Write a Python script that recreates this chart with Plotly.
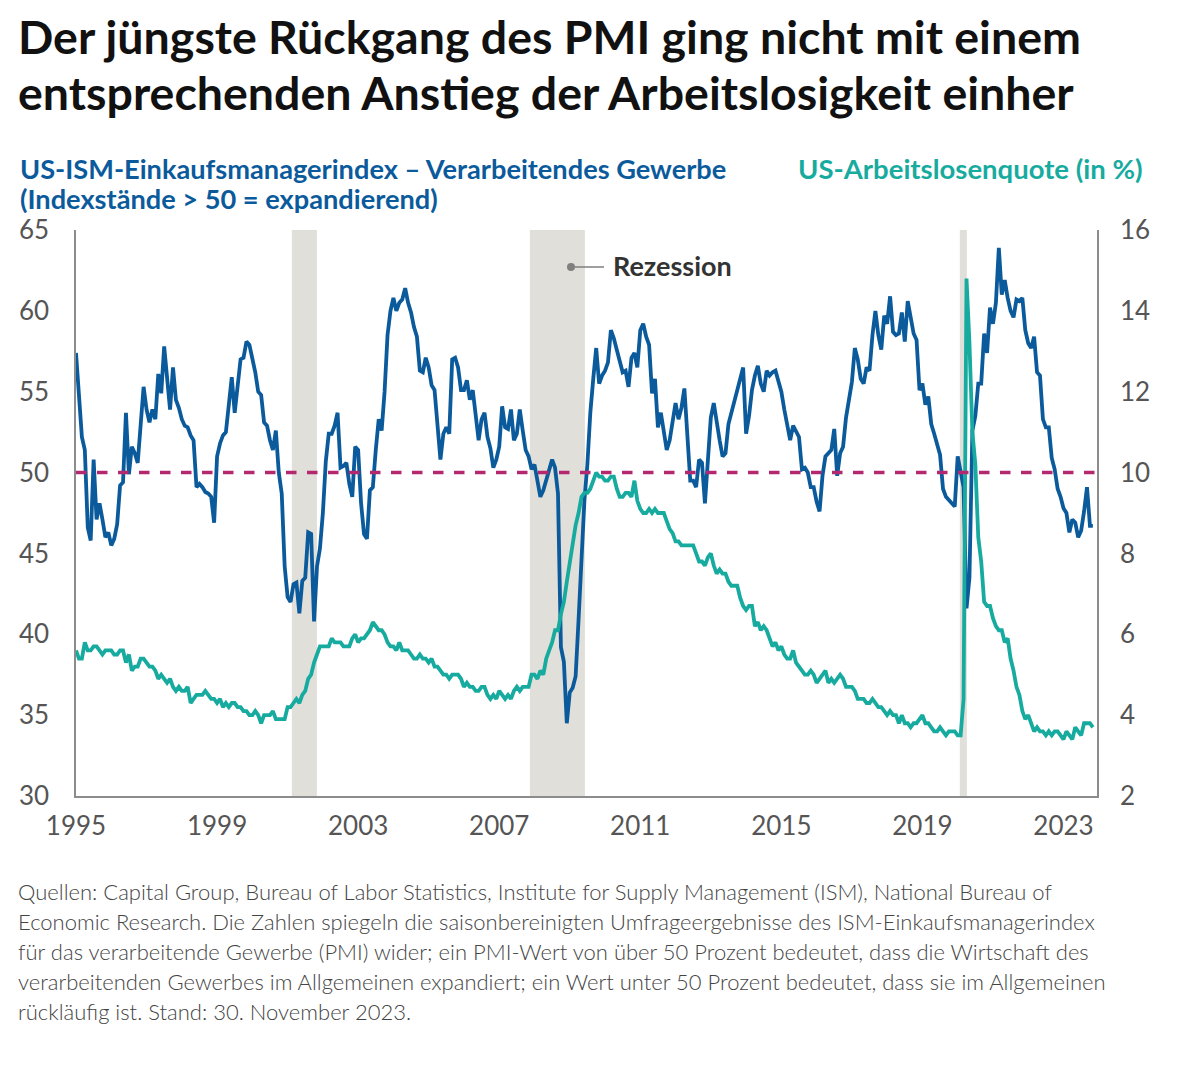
import plotly.graph_objects as go

# ---------------- data ----------------
start_year = 1995
# ISM manufacturing PMI, monthly, Jan 1995 - Nov 2023
pmi = [
    57.4, 55.0, 52.2, 51.4, 46.6, 45.8, 50.8, 47.1, 48.1, 47.1, 46.0, 46.3,  # 1995
    45.5, 45.9, 46.8, 49.2, 49.4, 53.7, 49.9, 51.6, 51.2, 50.6, 53.4, 55.3,  # 1996
    53.9, 53.1, 53.9, 53.3, 56.1, 54.9, 57.8, 56.0, 53.9, 56.5, 54.5, 54.0,  # 1997
    53.3, 52.9, 52.8, 52.3, 52.0, 49.1, 49.3, 49.1, 48.8, 48.7, 48.5, 46.9,  # 1998
    51.0, 51.8, 52.3, 52.5, 54.2, 55.9, 53.7, 55.5, 57.0, 57.1, 58.1, 57.9,  # 1999
    57.1, 56.2, 55.0, 54.8, 53.1, 52.9, 52.0, 51.4, 52.6, 50.0, 48.7, 44.2,  # 2000
    42.3, 42.0, 43.1, 43.2, 41.3, 43.3, 43.5, 46.3, 46.2, 40.8, 44.2, 45.3,  # 2001
    47.5, 50.7, 52.4, 52.4, 52.9, 53.7, 50.3, 50.4, 50.6, 49.3, 48.5, 51.6,  # 2002
    51.4, 48.1, 46.2, 45.9, 48.9, 49.1, 51.4, 53.3, 52.6, 55.0, 58.5, 60.0,  # 2003
    60.8, 60.0, 60.5, 60.7, 61.4, 60.5, 59.9, 59.0, 58.4, 56.3, 56.2, 57.1,  # 2004
    56.5, 55.4, 55.1, 53.0, 50.8, 52.4, 52.8, 52.4, 57.0, 57.1, 56.5, 55.1,  # 2005
    55.1, 55.7, 54.5, 55.1, 53.7, 52.0, 53.3, 53.7, 52.2, 51.5, 50.3, 50.8,  # 2006
    51.6, 54.1, 52.8, 52.7, 53.9, 52.0, 52.4, 53.9, 52.6, 51.4, 51.0, 50.2,  # 2007
    50.5, 49.5, 48.5, 48.9, 49.5, 50.0, 50.8, 50.3, 48.7, 39.2, 38.3, 34.5,  # 2008
    36.4, 36.7, 37.4, 40.9, 44.4, 48.3, 50.5, 53.7, 55.8, 57.7, 55.5, 56.0,  # 2009
    56.3, 56.8, 58.8, 58.3, 57.6, 57.0, 56.2, 56.3, 55.3, 57.1, 57.4, 56.5,  # 2010
    58.8, 59.2, 58.4, 57.9, 54.9, 55.8, 52.8, 53.7, 52.4, 51.4, 52.0, 53.3,  # 2011
    54.3, 53.3, 54.0, 55.2, 52.0, 49.5, 49.5, 49.1, 50.8, 50.6, 48.1, 50.8,  # 2012
    53.4, 54.3, 53.0, 52.0, 51.0, 51.2, 53.0, 53.7, 54.6, 55.2, 55.9, 56.5,  # 2013
    52.4, 53.5, 55.1, 56.0, 56.6, 55.5, 55.0, 56.3, 56.0, 56.2, 56.3, 55.7,  # 2014
    55.0, 53.9, 52.8, 52.0, 52.9, 52.5, 52.2, 50.2, 50.3, 50.0, 49.1, 49.1,  # 2015
    48.2, 47.6, 49.8, 51.0, 51.2, 51.4, 52.7, 49.8, 51.2, 51.6, 53.4, 54.7,  # 2016
    55.6, 57.7, 57.0, 55.8, 55.5, 56.5, 56.3, 58.5, 60.0, 58.5, 57.6, 59.7,  # 2017
    59.2, 60.9, 58.7, 58.5, 58.6, 59.9, 58.1, 60.6, 59.5, 58.6, 58.2, 55.1,  # 2018
    55.5, 54.2, 54.7, 53.0, 52.4, 51.8, 51.1, 49.0, 48.5, 48.3, 48.1, 47.9,  # 2019
    51.0, 50.1, 49.1, 41.6, 43.5, 52.6, 53.5, 55.5, 55.5, 58.6, 57.4, 60.2,  # 2020
    59.2, 60.5, 63.9, 61.0, 61.9, 60.8, 60.0, 59.6, 60.7, 60.6, 60.8, 58.8,  # 2021
    58.0, 57.7, 58.4, 56.2, 56.0, 53.3, 52.8, 52.8, 50.9, 50.2, 49.0, 48.5,  # 2022
    47.8, 47.5, 46.3, 47.1, 46.9, 46.0, 46.4, 47.6, 49.1, 46.7, 46.7,        # 2023
]
# US unemployment rate (%), monthly, Jan 1995 - Nov 2023
unemployment = [
    5.6, 5.4, 5.4, 5.8, 5.6, 5.6, 5.7, 5.7, 5.6, 5.5, 5.6, 5.6,  # 1995
    5.6, 5.5, 5.5, 5.6, 5.6, 5.3, 5.5, 5.1, 5.2, 5.2, 5.4, 5.4,  # 1996
    5.3, 5.2, 5.2, 5.1, 4.9, 5.0, 4.9, 4.8, 4.9, 4.7, 4.6, 4.7,  # 1997
    4.6, 4.6, 4.7, 4.3, 4.4, 4.5, 4.5, 4.5, 4.6, 4.5, 4.4, 4.4,  # 1998
    4.3, 4.4, 4.2, 4.3, 4.2, 4.3, 4.3, 4.2, 4.2, 4.1, 4.1, 4.0,  # 1999
    4.0, 4.1, 4.0, 3.8, 4.0, 4.0, 4.0, 4.1, 3.9, 3.9, 3.9, 3.9,  # 2000
    4.2, 4.2, 4.3, 4.4, 4.3, 4.5, 4.6, 4.9, 5.0, 5.3, 5.5, 5.7,  # 2001
    5.7, 5.7, 5.7, 5.9, 5.8, 5.8, 5.8, 5.7, 5.7, 5.7, 5.9, 6.0,  # 2002
    5.8, 5.9, 5.9, 6.0, 6.1, 6.3, 6.2, 6.1, 6.1, 6.0, 5.8, 5.7,  # 2003
    5.7, 5.6, 5.8, 5.6, 5.6, 5.6, 5.5, 5.4, 5.4, 5.5, 5.4, 5.4,  # 2004
    5.3, 5.4, 5.2, 5.2, 5.1, 5.0, 5.0, 4.9, 5.0, 5.0, 5.0, 4.9,  # 2005
    4.7, 4.8, 4.7, 4.7, 4.6, 4.6, 4.7, 4.7, 4.5, 4.4, 4.5, 4.4,  # 2006
    4.6, 4.5, 4.4, 4.5, 4.4, 4.6, 4.7, 4.6, 4.7, 4.7, 4.7, 5.0,  # 2007
    5.0, 4.9, 5.1, 5.0, 5.4, 5.6, 5.8, 6.1, 6.1, 6.5, 6.8, 7.3,  # 2008
    7.8, 8.3, 8.7, 9.0, 9.4, 9.5, 9.5, 9.6, 9.8, 10.0, 9.9, 9.9,  # 2009
    9.8, 9.8, 9.9, 9.9, 9.6, 9.4, 9.4, 9.5, 9.5, 9.4, 9.8, 9.3,  # 2010
    9.1, 9.0, 9.0, 9.1, 9.0, 9.1, 9.0, 9.0, 9.0, 8.8, 8.6, 8.5,  # 2011
    8.3, 8.3, 8.2, 8.2, 8.2, 8.2, 8.2, 8.0, 7.8, 7.8, 7.7, 7.9,  # 2012
    8.0, 7.7, 7.5, 7.6, 7.5, 7.5, 7.3, 7.2, 7.2, 7.2, 6.9, 6.7,  # 2013
    6.6, 6.7, 6.7, 6.2, 6.3, 6.1, 6.2, 6.1, 5.9, 5.7, 5.8, 5.6,  # 2014
    5.7, 5.5, 5.4, 5.4, 5.6, 5.3, 5.2, 5.1, 5.0, 5.0, 5.1, 5.0,  # 2015
    4.8, 4.9, 5.0, 5.1, 4.8, 4.9, 4.8, 4.9, 5.0, 4.9, 4.7, 4.7,  # 2016
    4.7, 4.6, 4.4, 4.4, 4.4, 4.3, 4.3, 4.4, 4.3, 4.2, 4.2, 4.1,  # 2017
    4.0, 4.1, 4.0, 4.0, 3.8, 4.0, 3.8, 3.8, 3.7, 3.8, 3.8, 3.9,  # 2018
    4.0, 3.8, 3.8, 3.7, 3.6, 3.6, 3.7, 3.6, 3.5, 3.6, 3.6, 3.6,  # 2019
    3.5, 3.5, 4.4, 14.8, 13.2, 11.0, 10.2, 8.4, 7.8, 6.8, 6.7, 6.7,  # 2020
    6.4, 6.2, 6.1, 6.1, 5.8, 5.9, 5.4, 5.1, 4.7, 4.5, 4.1, 3.9,  # 2021
    4.0, 3.8, 3.6, 3.7, 3.6, 3.6, 3.5, 3.6, 3.5, 3.6, 3.6, 3.5,  # 2022
    3.4, 3.6, 3.5, 3.4, 3.7, 3.6, 3.5, 3.8, 3.8, 3.8, 3.7,       # 2023
]
recession_start = [2001.12, 2007.87, 2020.06]
recession_end = [2001.83, 2009.43, 2020.26]
x_tick_years = [1995, 1999, 2003, 2007, 2011, 2015, 2019, 2023]
pmi_ticks = [30, 35, 40, 45, 50, 55, 60, 65]
rate_ticks = [2, 4, 6, 8, 10, 12, 14, 16]
threshold = 50

title_lines = ["Der jüngste Rückgang des PMI ging nicht mit einem",
               "entsprechenden Anstieg der Arbeitslosigkeit einher"]
left_label = ["US-ISM-Einkaufsmanagerindex – Verarbeitendes Gewerbe",
              "(Indexstände > 50 = expandierend)"]
right_label = "US-Arbeitslosenquote (in %)"
recession_label = "Rezession"
footnote_lines = [
    "Quellen: Capital Group, Bureau of Labor Statistics, Institute for Supply Management (ISM), National Bureau of",
    "Economic Research. Die Zahlen spiegeln die saisonbereinigten Umfrageergebnisse des ISM-Einkaufsmanagerindex",
    "für das verarbeitende Gewerbe (PMI) wider; ein PMI-Wert von über 50 Prozent bedeutet, dass die Wirtschaft des",
    "verarbeitenden Gewerbes im Allgemeinen expandiert; ein Wert unter 50 Prozent bedeutet, dass sie im Allgemeinen",
    "rückläufig ist. Stand: 30. November 2023.",
]

# ---------------- styling ----------------
OFF = 8                      # page body margin of the html page
W, H = 1188 - OFF, 1075 - OFF
L, R, T, B = 76, 1097, 230, 796   # plot area in screen pixels
BLUE = "#0B5B9C"
TEAL = "#17ABA0"
MAGENTA = "#B3286F"
GREY_BAND = "#E1DFDA"
TICK_COL = "#555555"
FONT = "Lato"


def px(x):
    return (x - L) / (R - L)


def py(y):
    return (B - y) / (B - T)


t_pmi = [start_year + i / 12 for i in range(len(pmi))]
t_ur = [start_year + i / 12 for i in range(len(unemployment))]

fig = go.Figure()

fig.add_trace(go.Scatter(x=t_ur, y=unemployment, mode="lines", yaxis="y2",
                         line=dict(color=TEAL, width=3.8), hoverinfo="skip",
                         showlegend=False))
fig.add_trace(go.Scatter(x=t_pmi, y=pmi, mode="lines",
                         line=dict(color=BLUE, width=3.8), hoverinfo="skip",
                         showlegend=False))

shapes = []
for s, e in zip(recession_start, recession_end):
    shapes.append(dict(type="rect", xref="x", yref="paper", x0=s, x1=e, y0=0, y1=1,
                       fillcolor=GREY_BAND, line=dict(width=0), layer="below"))
shapes.append(dict(type="line", xref="paper", yref="y", x0=0, x1=1,
                   y0=threshold, y1=threshold,
                   line=dict(color=MAGENTA, width=3.5, dash="dash")))
# recession callout: dot + connector line
shapes.append(dict(type="circle", xref="paper", yref="paper",
                   x0=px(567), x1=px(575), y0=py(271), y1=py(263),
                   fillcolor="#7f7f7f", line=dict(width=0)))
shapes.append(dict(type="line", xref="paper", yref="paper",
                   x0=px(575), x1=px(604), y0=py(267), y1=py(267),
                   line=dict(color="#7f7f7f", width=1.5)))

annotations = []
for k, line in enumerate(title_lines):
    annotations.append(dict(text=line, xref="paper", yref="paper", x=px(16),
                            y=py(36 + 56 * k), xanchor="left", yanchor="middle",
                            showarrow=False,
                            font=dict(family=FONT, size=46.5, color="#111111", weight="bold")))
for k, line in enumerate(left_label):
    annotations.append(dict(text=line, xref="paper", yref="paper", x=px(18),
                            y=py(169 + 29 * k), xanchor="left", yanchor="middle",
                            showarrow=False,
                            font=dict(family=FONT, size=27.2, color=BLUE, weight="bold")))
annotations.append(dict(text=right_label, xref="paper", yref="paper", x=px(1145),
                        y=py(169), xanchor="right", yanchor="middle", showarrow=False,
                        font=dict(family=FONT, size=27.5, color=TEAL, weight="bold")))
annotations.append(dict(text=recession_label, xref="paper", yref="paper", x=px(611),
                        y=py(265), xanchor="left", yanchor="middle", showarrow=False,
                        font=dict(family=FONT, size=27, color="#333333", weight="bold")))
for k, line in enumerate(footnote_lines):
    annotations.append(dict(text=line, xref="paper", yref="paper", x=px(16),
                            y=py(891 + 30 * k), xanchor="left", yanchor="middle",
                            showarrow=False,
                            font=dict(family=FONT, size=22, color="#444444", weight=300)))

fig.update_layout(
    width=W, height=H,
    margin=dict(l=L - OFF, r=W - (R - OFF), t=T - OFF, b=H - (B - OFF), pad=0),
    paper_bgcolor="white", plot_bgcolor="white",
    showlegend=False,
    shapes=shapes, annotations=annotations,
    xaxis=dict(range=[start_year, 2023.95], tickmode="array",
               tickvals=x_tick_years, ticktext=[str(v) for v in x_tick_years],
               showgrid=False, zeroline=False, showline=True,
               linecolor="#8c8c8c", linewidth=1.5,
               ticks="outside", ticklen=6, tickcolor="rgba(0,0,0,0)",
               tickfont=dict(family=FONT, size=26, color=TICK_COL)),
    yaxis=dict(range=[30, 65], tickmode="array", tickvals=pmi_ticks,
               showgrid=False, zeroline=False, showline=True,
               linecolor="#8c8c8c", linewidth=1.5,
               ticks="outside", ticklen=20, tickcolor="rgba(0,0,0,0)",
               tickfont=dict(family=FONT, size=26, color=TICK_COL)),
    yaxis2=dict(range=[2, 16], tickmode="array", tickvals=rate_ticks,
                overlaying="y", side="right",
                showgrid=False, zeroline=False, showline=True,
                linecolor="#8c8c8c", linewidth=1.5,
                ticks="outside", ticklen=16, tickcolor="rgba(0,0,0,0)",
                tickfont=dict(family=FONT, size=26, color=TICK_COL)),
)

fig.write_html("out.html")
